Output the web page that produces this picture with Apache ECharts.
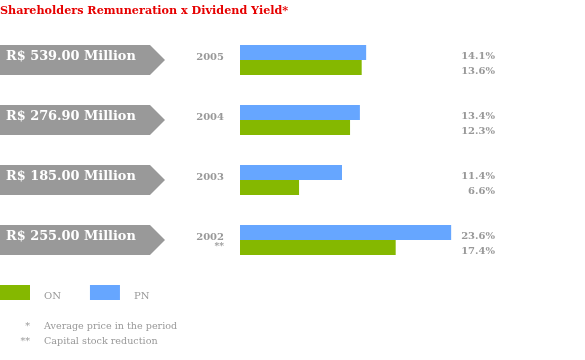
<!DOCTYPE html>
<html>
<head>
<meta charset="utf-8">
<script src="https://cdn.jsdelivr.net/npm/echarts@6/dist/echarts.min.js"></script>
<style>html,body{margin:0;padding:0;background:#fff}#c{width:585px;height:360px}</style>
</head>
<body>
<div id="c"></div>
<script>
const years = ['2005', '2004', '2003', '2002'];
const yearNotes = ['', '', '', '**'];
const amounts = ['R$ 539.00 Million', 'R$ 276.90 Million', 'R$ 185.00 Million', 'R$ 255.00 Million'];
const onValues = [13.6, 12.3, 6.6, 17.4];
const pnValues = [14.1, 13.4, 11.4, 23.6];
const footnotes = [['*', 'Average price in the period'], ['**', 'Capital stock reduction']];

const SERIF = '"DejaVu Serif", Georgia, serif';
const GRAY = '#999999';
const GREEN = '#85b800';
const BLUE = '#66a6ff';

const chart = echarts.init(document.getElementById('c'));
chart.setOption({
  animation: false,
  title: {
    text: 'Shareholders Remuneration x Dividend Yield*',
    left: 0, top: 6, padding: 0,
    textStyle: { fontFamily: SERIF, fontSize: 11.2, fontWeight: 'bold', color: '#e60000' }
  },
  legend: {
    left: 0, top: 285, padding: 0,
    itemWidth: 30, itemHeight: 15, itemGap: 29,
    icon: 'rect',
    data: ['ON', 'PN'],
    formatter: n => '{t|' + n + '}',
    textStyle: {
      fontFamily: SERIF, fontSize: 10, color: GRAY, padding: [0, 0, 0, 9],
      rich: { t: { fontFamily: SERIF, fontSize: 10, color: GRAY, padding: [8, 0, 0, 0] } }
    }
  },
  grid: [
    { left: 240, right: 90, top: 30, height: 240 },
    { left: 0, width: 165, top: 30, height: 240 }
  ],
  xAxis: [
    { type: 'value', gridIndex: 0, min: 0, max: 28.5, show: false },
    { type: 'value', gridIndex: 1, min: 0, max: 1, show: false }
  ],
  yAxis: [
    {
      type: 'category', gridIndex: 0, data: years, inverse: true,
      axisLine: { show: false }, axisTick: { show: false }, splitLine: { show: false },
      axisLabel: {
        margin: 16, align: 'right',
        formatter: (v, i) => yearNotes[i] ? '{y2|' + v + '}\n{n|' + yearNotes[i] + '}' : '{y|' + v + '}',
        rich: {
          y: { fontFamily: SERIF, fontSize: 10, fontWeight: 'bold', color: GRAY, padding: [0, 0, 6, 0] },
          y2: { fontFamily: SERIF, fontSize: 10, fontWeight: 'bold', color: GRAY, lineHeight: 14, padding: [8, 0, 0, 0] },
          n: { fontFamily: SERIF, fontSize: 9, fontWeight: 'bold', color: GRAY, lineHeight: 14 }
        }
      }
    },
    {
      type: 'category', gridIndex: 0, data: years, inverse: true, position: 'right',
      axisLine: { show: false }, axisTick: { show: false }, splitLine: { show: false },
      axisLabel: {
        margin: 0, align: 'right',
        formatter: (v, i) => '{p|' + pnValues[i].toFixed(1) + '%}\n{p|' + onValues[i].toFixed(1) + '%}',
        rich: { p: { fontFamily: SERIF, fontSize: 10, fontWeight: 'bold', color: GRAY, lineHeight: 15, padding: [7, 0, 0, 0] } }
      }
    },
    { type: 'category', gridIndex: 1, data: years, inverse: true, show: false }
  ],
  series: [
    {
      name: 'PN', type: 'bar', xAxisIndex: 0, yAxisIndex: 0,
      data: pnValues, barWidth: 15, barGap: '0%',
      itemStyle: { color: BLUE }
    },
    {
      name: 'ON', type: 'bar', xAxisIndex: 0, yAxisIndex: 0,
      data: onValues, barWidth: 15, barGap: '0%',
      itemStyle: { color: GREEN }
    },
    {
      name: 'amounts', type: 'custom', xAxisIndex: 1, yAxisIndex: 2,
      data: years.map(y => [0, y]),
      encode: { x: 0, y: 1 },
      renderItem: (params, api) => {
        const cs = params.coordSys;
        const c = api.coord([0, api.value(1)]);
        const h = api.size([0, 1])[1] / 2;
        const x0 = cs.x, x1 = cs.x + cs.width;
        const tip = 15;
        return {
          type: 'group',
          children: [
            { type: 'polygon', shape: { points: [[x0, c[1] - h / 2], [x1 - tip, c[1] - h / 2], [x1, c[1]], [x1 - tip, c[1] + h / 2], [x0, c[1] + h / 2]] }, style: { fill: GRAY } },
            { type: 'text', x: x0 + 6, y: c[1] - 3.5, style: { text: amounts[params.dataIndex], fill: '#fff', font: 'bold 12.9px ' + SERIF, verticalAlign: 'middle', align: 'left' } }
          ]
        };
      }
    }
  ],
  graphic: footnotes.flatMap((f, i) => [
    { type: 'text', x: 30, y: 326 + i * 15, style: { text: f[0], fill: GRAY, font: '9.6px ' + SERIF, align: 'right', verticalAlign: 'middle' } },
    { type: 'text', x: 44, y: 326 + i * 15, style: { text: f[1], fill: GRAY, font: '9.6px ' + SERIF, align: 'left', verticalAlign: 'middle' } }
  ])
});
</script>
</body>
</html>
